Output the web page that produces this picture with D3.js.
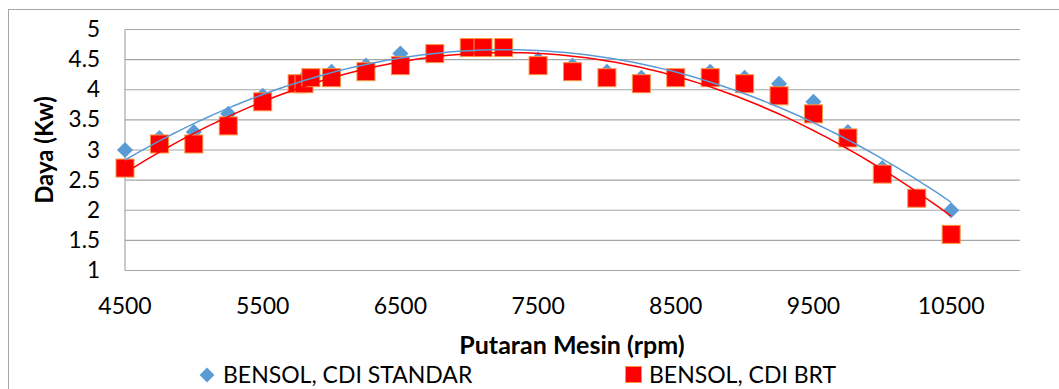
<!DOCTYPE html>
<html>
<head>
<meta charset="utf-8">
<script src="https://cdn.jsdelivr.net/npm/d3@7"></script>
<style>
  body { margin: 0; background: #fff; }
  text { font-family: Lato, "Open Sans", sans-serif; fill: #000; }
</style>
</head>
<body>
<div id="chart"></div>
<script>
var rpm = [4500, 4750, 5000, 5250, 5500, 5750, 5800, 5850, 6000, 6250, 6500, 6750, 7000, 7100,
           7250, 7500, 7750, 8000, 8250, 8500, 8750, 9000, 9250, 9500, 9750, 10000, 10250, 10500];
var standar = [3.0, 3.2, 3.3, 3.6, 3.9, 4.1, 4.2, 4.2, 4.3, 4.4, 4.6, 4.6, 4.7, 4.7,
               4.7, 4.5, 4.4, 4.3, 4.2, 4.2, 4.3, 4.2, 4.1, 3.8, 3.3, 2.7, 2.2, 2.0];
var brt = [2.7, 3.1, 3.1, 3.4, 3.8, 4.1, 4.1, 4.2, 4.2, 4.3, 4.4, 4.6, 4.7, 4.7,
           4.7, 4.4, 4.3, 4.2, 4.1, 4.2, 4.2, 4.1, 3.9, 3.6, 3.2, 2.6, 2.2, 1.6];
var xTicks = [4500, 5500, 6500, 7500, 8500, 9500, 10500];
var yTicks = [1, 1.5, 2, 2.5, 3, 3.5, 4, 4.5, 5];
var seriesNames = ["BENSOL, CDI STANDAR", "BENSOL, CDI BRT"];

var plotLeft = 125, plotRight = 1020, plotTop = 29.5, plotBottom = 270.5;

var svg = d3.select("#chart")
      .append("svg")
      .attr("width", 1059)
      .attr("height", 389);

// outer chart border (runs off the right and bottom edge)
svg.append("rect")
      .attr("x", 8.5)
      .attr("y", 9.5)
      .attr("width", 1100)
      .attr("height", 420)
      .attr("fill", "none")
      .attr("stroke", "#a6a6a6")
      .attr("stroke-width", 1);

var x = d3.scaleLinear().domain([4500, 11000]).range([plotLeft, plotRight]);
var y = d3.scaleLinear().domain([1, 5]).range([plotBottom, plotTop]);

// horizontal grid
svg.append("g")
      .selectAll("line")
      .data(yTicks)
      .enter()
      .append("line")
      .attr("x1", plotLeft)
      .attr("x2", plotRight)
      .attr("y1", function(d){ return y(d); })
      .attr("y2", function(d){ return y(d); })
      .attr("stroke", "#a6a6a6")
      .attr("stroke-width", 1.2);

// left axis line
svg.append("line")
      .attr("x1", plotLeft)
      .attr("x2", plotLeft)
      .attr("y1", plotTop)
      .attr("y2", plotBottom)
      .attr("stroke", "#a6a6a6")
      .attr("stroke-width", 1.2);

// y labels
svg.append("g")
      .selectAll("text")
      .data(yTicks)
      .enter()
      .append("text")
      .attr("x", 100)
      .attr("y", function(d){ return y(d) + 7.5; })
      .attr("text-anchor", "end")
      .style("font-size", "22.5px")
      .text(function(d){ return d; });

// x labels
svg.append("g")
      .selectAll("text")
      .data(xTicks)
      .enter()
      .append("text")
      .attr("x", function(d){ return x(d); })
      .attr("y", 314)
      .attr("text-anchor", "middle")
      .style("font-size", "23px")
      .text(function(d){ return d; });

// axis titles
svg.append("text")
      .attr("x", 572)
      .attr("y", 354)
      .attr("text-anchor", "middle")
      .style("font-size", "25px")
      .style("font-weight", "bold")
      .text("Putaran Mesin (rpm)");

svg.append("text")
      .attr("transform", "translate(53,150) rotate(-90)")
      .attr("text-anchor", "middle")
      .style("font-size", "24px")
      .style("font-weight", "bold")
      .text("Daya (Kw)");

// least squares polynomial trend (like the spreadsheet trendline)
function polyFit(xs, ys, order){
  var n = order + 1, m = d3.mean(xs), s = 1000;
  var A = [], b = [];
  for (var i = 0; i < n; i++) {
    A[i] = [];
    for (var j = 0; j < n; j++) A[i][j] = 0;
    b[i] = 0;
  }
  xs.forEach(function(xv, k){
    var t = (xv - m) / s;
    for (var i = 0; i < n; i++) {
      for (var j = 0; j < n; j++) A[i][j] += Math.pow(t, i + j);
      b[i] += ys[k] * Math.pow(t, i);
    }
  });
  for (var c = 0; c < n; c++) {
    for (var r = c + 1; r < n; r++) {
      var f = A[r][c] / A[c][c];
      for (var k = c; k < n; k++) A[r][k] -= f * A[c][k];
      b[r] -= f * b[c];
    }
  }
  var coef = [];
  for (var r2 = n - 1; r2 >= 0; r2--) {
    var sum = b[r2];
    for (var k2 = r2 + 1; k2 < n; k2++) sum -= A[r2][k2] * coef[k2];
    coef[r2] = sum / A[r2][r2];
  }
  return function(xv){
    var t = (xv - m) / s, v = 0;
    for (var i = 0; i < n; i++) v += coef[i] * Math.pow(t, i);
    return v;
  };
}

var trendX = d3.range(4500, 10501, 50);
var line = d3.line()
      .x(function(d){ return x(d[0]); })
      .y(function(d){ return y(d[1]); });

// markers: blue diamonds then red squares
svg.append("g")
      .selectAll("path")
      .data(rpm)
      .enter()
      .append("path")
      .attr("d", d3.symbol().type(d3.symbolDiamond2).size(165))
      .attr("transform", function(d, i){ return "translate(" + x(d) + "," + y(standar[i]) + ")"; })
      .attr("fill", "#5b9bd5");

svg.append("g")
      .selectAll("rect")
      .data(rpm)
      .enter()
      .append("rect")
      .attr("x", function(d){ return x(d) - 9; })
      .attr("y", function(d, i){ return y(brt[i]) - 9; })
      .attr("width", 18)
      .attr("height", 18)
      .attr("fill", "#ff0000")
      .attr("stroke", "#f79646")
      .attr("stroke-width", 1);

// trend lines over the markers
var fitStd = polyFit(rpm, standar, 2);
var fitBrt = polyFit(rpm, brt, 2);

svg.append("path")
      .datum(trendX.map(function(d){ return [d, fitStd(d)]; }))
      .attr("d", line)
      .attr("fill", "none")
      .attr("stroke", "#5b9bd5")
      .attr("stroke-width", 1.5);

svg.append("path")
      .datum(trendX.map(function(d){ return [d, fitBrt(d)]; }))
      .attr("d", line)
      .attr("fill", "none")
      .attr("stroke", "#ff0000")
      .attr("stroke-width", 1.5);

// legend
svg.append("path")
      .attr("d", d3.symbol().type(d3.symbolDiamond2).size(140))
      .attr("transform", "translate(207,375)")
      .attr("fill", "#5b9bd5");

svg.append("text")
      .attr("x", 223)
      .attr("y", 383)
      .style("font-size", "23px")
      .text(seriesNames[0]);

svg.append("rect")
      .attr("x", 625.5)
      .attr("y", 366.5)
      .attr("width", 16)
      .attr("height", 16)
      .attr("fill", "#ff0000")
      .attr("stroke", "#f79646")
      .attr("stroke-width", 1);

svg.append("text")
      .attr("x", 649)
      .attr("y", 383)
      .style("font-size", "23px")
      .text(seriesNames[1]);
</script>
</body>
</html>
